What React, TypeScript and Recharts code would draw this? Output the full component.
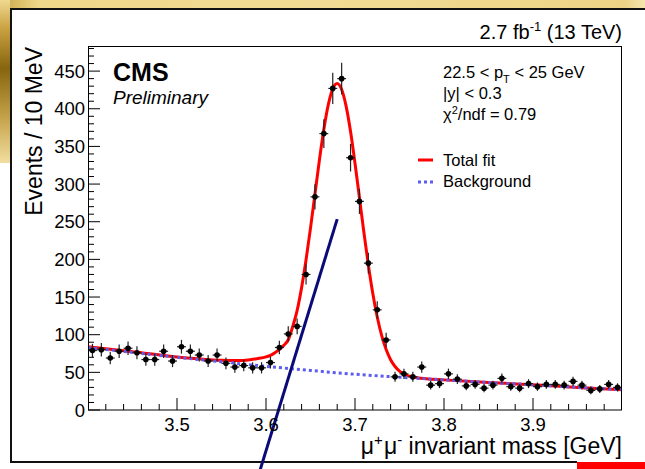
import React from 'react';
import {
  ComposedChart,
  Line,
  Scatter,
  ErrorBar,
  XAxis,
  YAxis,
  ReferenceLine,
} from 'recharts';

// bin centres (10 MeV bins) and counts
const massBins = [
  3.405, 3.415, 3.425, 3.435, 3.445, 3.455, 3.465, 3.475, 3.485, 3.495,
  3.505, 3.515, 3.525, 3.535, 3.545, 3.555, 3.565, 3.575, 3.585, 3.595,
  3.605, 3.615, 3.625, 3.635, 3.645, 3.655, 3.665, 3.675, 3.685, 3.695,
  3.705, 3.715, 3.725, 3.735, 3.745, 3.755, 3.765, 3.775, 3.785, 3.795,
  3.805, 3.815, 3.825, 3.835, 3.845, 3.855, 3.865, 3.875, 3.885, 3.895,
  3.905, 3.915, 3.925, 3.935, 3.945, 3.955, 3.965, 3.975, 3.985, 3.995,
];
const eventCounts = [
  79, 80, 69, 78, 82, 76, 67, 67, 78, 65,
  84, 78, 73, 65, 73, 62, 57, 59, 56, 56,
  63, 83, 101, 111, 180, 283, 367, 427, 440, 335,
  277, 195, 133, 93, 44, 48, 44, 57, 33, 35,
  48, 41, 32, 34, 29, 33, 42, 31, 29, 35,
  31, 34, 34, 33, 38, 33, 26, 28, 34, 30,
];

// total fit curve
const fitMass = [
  3.4, 3.45, 3.5, 3.55, 3.57, 3.58, 3.59, 3.6, 3.605, 3.61, 3.615, 3.62,
  3.625, 3.63, 3.635, 3.64, 3.645, 3.65, 3.655, 3.66, 3.665, 3.67, 3.675,
  3.68, 3.685, 3.69, 3.695, 3.7, 3.705, 3.71, 3.715, 3.72, 3.725, 3.73,
  3.735, 3.74, 3.745, 3.75, 3.755, 3.76, 3.77, 3.78, 3.8, 3.85, 3.9, 3.95, 4.0,
];
const fitTotal = [
  84, 77.5, 70.5, 66, 65.6, 66.4, 68.2, 70.5, 72.5, 76, 80.4, 85.8,
  93.3, 110.7, 132.2, 162.5, 199.4, 241.5, 286.7, 331.7, 372.7, 405.5, 426.5,
  433.5, 425.5, 403.5, 369.7, 327.7, 281.8, 235.7, 192.6, 154.8, 123.5, 98.7,
  80.2, 66.8, 57.7, 51.6, 47.7, 45.3, 42.8, 41.5, 40, 36.5, 33.5, 30, 27,
];

// background component
const bgMass = [3.4, 3.45, 3.5, 3.55, 3.6, 3.65, 3.7, 3.75, 3.8, 3.85, 3.9, 3.95, 4.0];
const bgValue = [83, 76.5, 70, 64, 58, 52.5, 47.5, 43.5, 40, 36.5, 33.5, 30, 27];

// hand-drawn annotation stroke (data coords)
const annotationMass = [3.5933, 3.68];
const annotationValue = [-80, 253.5];

const xTicks = [
  3.42, 3.44, 3.46, 3.48, 3.5, 3.52, 3.54, 3.56, 3.58, 3.6, 3.62, 3.64, 3.66,
  3.68, 3.7, 3.72, 3.74, 3.76, 3.78, 3.8, 3.82, 3.84, 3.86, 3.88, 3.9, 3.92,
  3.94, 3.96, 3.98,
];
const yTicks = [
  0, 10, 20, 30, 40, 50, 60, 70, 80, 90, 100, 110, 120, 130, 140, 150, 160,
  170, 180, 190, 200, 210, 220, 230, 240, 250, 260, 270, 280, 290, 300, 310,
  320, 330, 340, 350, 360, 370, 380, 390, 400, 410, 420, 430, 440, 450, 460,
  470, 480,
];

const W = 645;
const H = 469;
const PLOT_LEFT = 88;
const PLOT_TOP = 47;
const PLOT_RIGHT = 622;
const PLOT_BOTTOM = 410;
const FONT = '"Liberation Sans", Arial, Helvetica, sans-serif';

const points = massBins.map((m, i) => ({
  x: m,
  y: eventCounts[i],
  ey: Math.sqrt(eventCounts[i]),
  ex: 0.005,
}));
const fitData = fitMass.map((m, i) => ({ x: m, y: fitTotal[i] }));
const bgData = bgMass.map((m, i) => ({ x: m, y: bgValue[i] }));

function isMajorX(v: number) {
  return Math.abs(v * 10 - Math.round(v * 10)) < 1e-6;
}

function XTick(props: any) {
  const { x, payload } = props;
  const v = payload.value as number;
  const major = isMajorX(v);
  return (
    <g>
      <line x1={x} x2={x} y1={PLOT_BOTTOM} y2={PLOT_BOTTOM - (major ? 12 : 6)} stroke="#000" strokeWidth={1} />
      {major && (
        <text x={x} y={PLOT_BOTTOM + 21} textAnchor="middle" fontSize={18.5} fontFamily={FONT} fill="#000">
          {v.toFixed(1)}
        </text>
      )}
    </g>
  );
}

function YTick(props: any) {
  const { y, payload } = props;
  const v = payload.value as number;
  const major = v % 50 === 0;
  return (
    <g>
      <line x1={PLOT_LEFT} x2={PLOT_LEFT + (major ? 12 : 6)} y1={y} y2={y} stroke="#000" strokeWidth={1} />
      {major && (
        <text x={PLOT_LEFT - 3} y={y + 6.5} textAnchor="end" fontSize={18.5} fontFamily={FONT} fill="#000">
          {v}
        </text>
      )}
    </g>
  );
}

function Marker(props: any) {
  const { cx, cy } = props;
  return <circle cx={cx} cy={cy} r={2.8} fill="#000" />;
}

export default function App() {
  return (
    <div
      style={{
        position: 'absolute',
        left: 0,
        top: 0,
        width: W,
        height: H,
        background: '#fff',
        overflow: 'hidden',
        fontFamily: FONT,
      }}
    >
      {/* slide background bits */}
      <div
        style={{
          position: 'absolute', left: 0, top: 0, width: W, height: 9,
          background: 'linear-gradient(to right, #c9a646, #efd78a 6%, #f2dc95 50%, #ecd386 97%, #f6e6b0)',
        }}
      />
      <div
        style={{
          position: 'absolute', left: 0, top: 0, width: 10, height: 163,
          background: 'linear-gradient(to bottom, #f0d890, #c8a040 18%, #86650e 42%, #c4a24a 72%, #f2dea0)',
        }}
      />
      <div style={{ position: 'absolute', left: 10, top: 8, width: W - 10, height: 2, background: '#111' }} />
      <div style={{ position: 'absolute', left: 10, top: 8, width: 2, height: 455, background: '#111' }} />
      <div style={{ position: 'absolute', left: 10, top: 461, width: 567, height: 2, background: '#111' }} />
      <div style={{ position: 'absolute', left: 577, top: 462, width: W - 577, height: 7, background: '#ff0000' }} />

      <div style={{ position: 'absolute', left: 0, top: 0 }}>
        <ComposedChart
          width={W}
          height={H}
          margin={{ top: PLOT_TOP, right: W - PLOT_RIGHT, bottom: 0, left: 0 }}
        >
          <XAxis
            type="number"
            dataKey="x"
            domain={[3.4, 4.0]}
            allowDataOverflow
            ticks={xTicks}
            interval={0}
            tick={<XTick />}
            tickLine={false}
            axisLine={false}
            height={H - PLOT_BOTTOM}
          />
          <YAxis
            type="number"
            dataKey="y"
            domain={[0, 482]}
            allowDataOverflow
            ticks={yTicks}
            interval={0}
            tick={<YTick />}
            tickLine={false}
            axisLine={false}
            width={PLOT_LEFT}
          />
          <Line
            data={fitData}
            dataKey="y"
            type="monotone"
            stroke="#ff0000"
            strokeWidth={3}
            dot={false}
            activeDot={false}
            isAnimationActive={false}
          />
          <Line
            data={bgData}
            dataKey="y"
            type="monotone"
            stroke="#5c5cf2"
            strokeWidth={3}
            strokeDasharray="3 3"
            dot={false}
            activeDot={false}
            isAnimationActive={false}
          />
          <Scatter data={points} dataKey="y" shape={<Marker />} isAnimationActive={false}>
            <ErrorBar dataKey="ey" direction="y" width={0} stroke="#222" strokeWidth={1.2} isAnimationActive={false} />
            <ErrorBar dataKey="ex" direction="x" width={0} stroke="#222" strokeWidth={1.2} isAnimationActive={false} />
          </Scatter>
          <ReferenceLine
            segment={[
              { x: annotationMass[0], y: annotationValue[0] },
              { x: annotationMass[1], y: annotationValue[1] },
            ]}
            ifOverflow="visible"
            stroke="#0a0a78"
            strokeWidth={3}
          />
        </ComposedChart>
      </div>

      <svg
        width={W}
        height={H}
        style={{ position: 'absolute', left: 0, top: 0, pointerEvents: 'none' }}
        fontFamily={FONT}
      >
        <rect
          x={PLOT_LEFT + 0.5}
          y={PLOT_TOP - 0.5}
          width={PLOT_RIGHT - PLOT_LEFT - 1}
          height={PLOT_BOTTOM - PLOT_TOP + 0.5}
          fill="none"
          stroke="#000"
          strokeWidth={1}
        />
        <text x={622} y={39} textAnchor="end" fontSize={20} fill="#000">
          2.7 fb<tspan fontSize={13} dy={-8}>-1</tspan>
          <tspan dy={8}> (13 TeV)</tspan>
        </text>
        <text x={113} y={81} fontSize={25} fontWeight="bold" fill="#000">CMS</text>
        <text x={113} y={104} fontSize={19} fontStyle="italic" fill="#000">Preliminary</text>

        <text x={443} y={78} fontSize={16.5} fill="#000">
          22.5 &lt; p<tspan fontSize={11} dy={5}>T</tspan>
          <tspan dy={-5}> &lt; 25 GeV</tspan>
        </text>
        <text x={443} y={99} fontSize={16.5} fill="#000">|y| &lt; 0.3</text>
        <text x={443} y={120} fontSize={16.5} fill="#000">
          χ<tspan fontSize={11} dy={-6}>2</tspan>
          <tspan dy={6}>/ndf = 0.79</tspan>
        </text>

        <line x1={418} x2={433} y1={160} y2={160} stroke="#ff0000" strokeWidth={3} />
        <text x={443} y={166} fontSize={16.5} fill="#000">Total fit</text>
        <line x1={418} x2={433} y1={182} y2={182} stroke="#5c5cf2" strokeWidth={3} strokeDasharray="3 3" />
        <text x={443} y={187} fontSize={16.5} fill="#000">Background</text>

        <text
          x={42}
          y={47}
          textAnchor="end"
          fontSize={23}
          fill="#000"
          transform="rotate(-90 42 47)"
        >
          Events / 10 MeV
        </text>
        <text x={622} y={454} textAnchor="end" fontSize={23} fill="#000">
          μ<tspan fontSize={15} dy={-9}>+</tspan>
          <tspan dy={9} dx={1}>μ</tspan>
          <tspan fontSize={15} dy={-9}>-</tspan>
          <tspan dy={9}> invariant mass [GeV]</tspan>
        </text>
      </svg>
    </div>
  );
}
